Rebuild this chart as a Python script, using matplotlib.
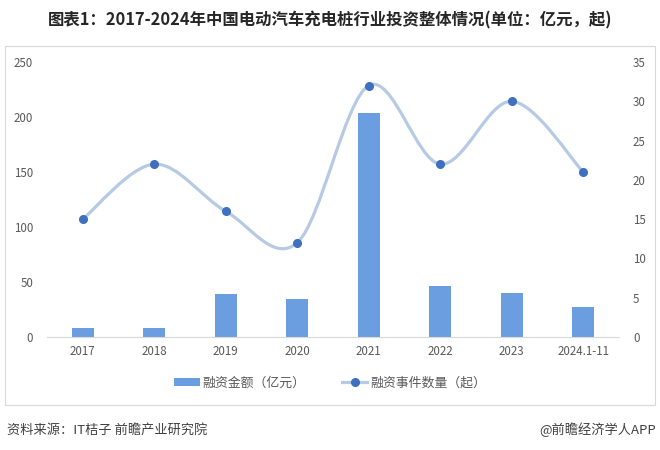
import matplotlib
matplotlib.use("Agg")
import matplotlib.pyplot as plt
from matplotlib.path import Path
from matplotlib.patches import PathPatch, Rectangle
from matplotlib.lines import Line2D
from matplotlib.patches import Patch
import numpy as np

plt.rcParams['font.family'] = ['Noto Sans CJK SC', 'DejaVu Sans']

categories = ["2017", "2018", "2019", "2020", "2021", "2022", "2023", "2024.1-11"]
amount = [8, 8, 39, 35, 204, 46, 40, 27]          # 融资金额（亿元）
events = [15, 22, 16, 12, 32, 22, 30, 21]         # 融资事件数量（起）
left_ticks = [0, 50, 100, 150, 200, 250]
right_ticks = [0, 5, 10, 15, 20, 25, 30, 35]

title = "图表1：2017-2024年中国电动汽车充电桩行业投资整体情况(单位：亿元，起)"
source = "资料来源：IT桔子 前瞻产业研究院"
credit = "@前瞻经济学人APP"

bar_color = "#6A9EE0"
line_color = "#B7CAE4"
marker_color = "#3F6FBF"
tick_color = "#595959"

fig = plt.figure(figsize=(6.6, 4.5), dpi=100)
fig.patch.set_facecolor("white")

# outer light frame
fig.add_artist(Rectangle((5/660, 1-405/450), 650/660, 359/450, transform=fig.transFigure,
                         fill=False, edgecolor="#D9D9D9", linewidth=0.8))

ax = fig.add_axes([47/660, 1-337/450, 572/660, 275/450])
x = np.arange(len(categories))
ax.bar(x, amount, width=0.31, color=bar_color, zorder=2)
ax.set_xlim(-0.5, len(categories) - 0.5)
ax.set_ylim(0, 250)
ax.set_yticks(left_ticks)
ax.set_xticks(x)
ax.set_xticklabels(categories)
for s in ["top", "left", "right"]:
    ax.spines[s].set_visible(False)
ax.spines["bottom"].set_color("#D9D9D9")
ax.tick_params(axis="both", length=0, colors=tick_color, labelsize=8.3)
ax.tick_params(axis="x", pad=6)
ax.tick_params(axis="y", pad=10)

ax2 = ax.twinx()
ax2.set_ylim(0, 35)
ax2.set_yticks(right_ticks)
for s in ["top", "left", "right", "bottom"]:
    ax2.spines[s].set_visible(False)
ax2.tick_params(axis="y", length=0, colors=tick_color, labelsize=8.3, pad=10)

# smooth line (Excel-style Bezier through data points)
pts = np.column_stack([x, events]).astype(float)
n = len(pts)
verts = [tuple(pts[0])]
codes = [Path.MOVETO]
for i in range(n - 1):
    p0 = pts[i - 1] if i > 0 else pts[i]
    p1 = pts[i]
    p2 = pts[i + 1]
    p3 = pts[i + 2] if i + 2 < n else pts[i + 1]
    c1 = p1 + (p2 - p0) / 6.0
    c2 = p2 - (p3 - p1) / 6.0
    verts += [tuple(c1), tuple(c2), tuple(p2)]
    codes += [Path.CURVE4] * 3
ax2.add_patch(PathPatch(Path(verts, codes), fill=False, edgecolor=line_color,
                        linewidth=2.3, capstyle="round", zorder=3))
ax2.plot(x, events, linestyle="none", marker="o", markersize=5.5,
         color=marker_color, zorder=4)

# legend
handles = [Patch(facecolor=bar_color, edgecolor="none"),
           Line2D([0], [0], color=line_color, linewidth=2.3, marker="o",
                  markersize=5.5, markerfacecolor=marker_color, markeredgecolor=marker_color)]
fig.legend(handles, ["融资金额（亿元）", "融资事件数量（起）"], loc="center",
           bbox_to_anchor=(0.5, 1-383/450), ncol=2, frameon=False, fontsize=9.3,
           labelcolor=tick_color, handlelength=2.0, handletextpad=0.2, columnspacing=2.8,
           handleheight=0.6)

fig.text(0.5, 1-20/450, title, ha="center", va="center", fontsize=11.8,
         fontweight="bold", color="#262626")
fig.text(7/660, 1-430/450, source, ha="left", va="center", fontsize=9.5, color="#404040")
fig.text(656/660, 1-430/450, credit, ha="right", va="center", fontsize=9.5, color="#404040")

fig.savefig("out.png", dpi=100)
